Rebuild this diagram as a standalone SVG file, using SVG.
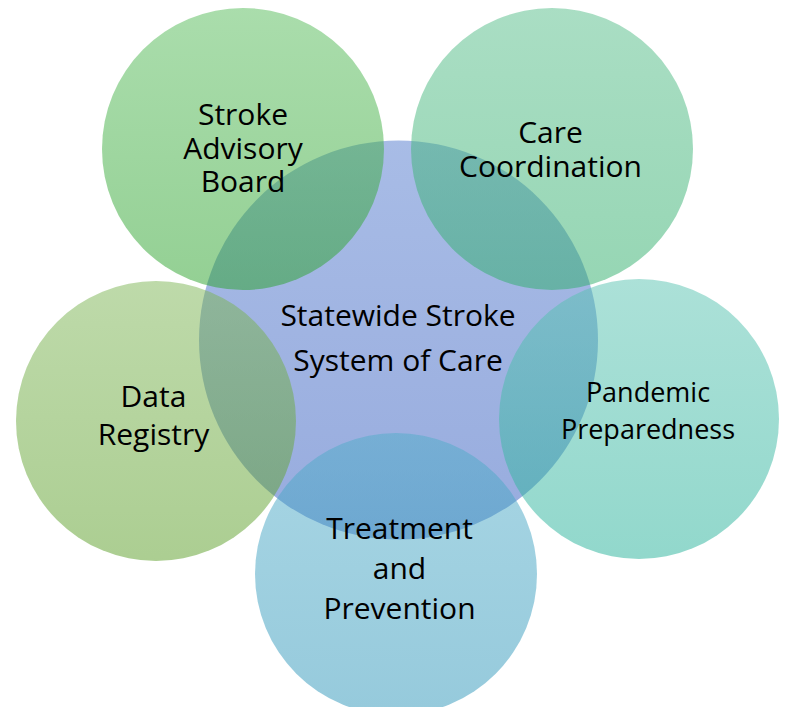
<svg xmlns="http://www.w3.org/2000/svg" width="786" height="707" viewBox="0 0 786 707">
<defs>
<linearGradient id="gC" x1="0" y1="0" x2="0" y2="1"><stop offset="0" stop-color="#5179cd"/><stop offset="1" stop-color="#3159bd"/></linearGradient>
<linearGradient id="gTL" x1="0" y1="0" x2="0" y2="1"><stop offset="0" stop-color="#55bb59"/><stop offset="1" stop-color="#29a129"/></linearGradient>
<linearGradient id="gTR" x1="0" y1="0" x2="0" y2="1"><stop offset="0" stop-color="#55bd89"/><stop offset="1" stop-color="#2dad69"/></linearGradient>
<linearGradient id="gL" x1="0" y1="0" x2="0" y2="1"><stop offset="0" stop-color="#7db555"/><stop offset="1" stop-color="#599d25"/></linearGradient>
<linearGradient id="gR" x1="0" y1="0" x2="0" y2="1"><stop offset="0" stop-color="#59c3b1"/><stop offset="1" stop-color="#25b199"/></linearGradient>
<linearGradient id="gB" x1="0" y1="0" x2="0" y2="1"><stop offset="0" stop-color="#51adc9"/><stop offset="1" stop-color="#2d95b9"/></linearGradient>
</defs>
<style>
circle { fill-opacity: 0.5; }
text { font-family: "Open Sans", "Liberation Sans", sans-serif; font-size: 30px; fill: #000; text-anchor: middle; }
</style>
<rect width="786" height="707" fill="#ffffff"/>
<g id="center">
<circle cx="398.5" cy="340" r="199.5" fill="url(#gC)"/>
</g>
<g id="stroke-advisory-board">
<circle cx="243" cy="149" r="141" fill="url(#gTL)"/>
</g>
<g id="care-coordination">
<circle cx="552" cy="149" r="141" fill="url(#gTR)"/>
</g>
<g id="data-registry">
<circle cx="156" cy="421" r="140" fill="url(#gL)"/>
</g>
<g id="pandemic-preparedness">
<circle cx="639" cy="419" r="140" fill="url(#gR)"/>
</g>
<g id="treatment-prevention">
<circle cx="396" cy="574" r="141" fill="url(#gB)"/>
</g>
<g id="labels">
<text x="398" y="326">Statewide Stroke</text>
<text x="398" y="371">System of Care</text>
<text x="243" y="125">Stroke</text>
<text x="243" y="158.5">Advisory</text>
<text x="243" y="192">Board</text>
<text x="550.5" y="143">Care</text>
<text x="550.5" y="177">Coordination</text>
<text x="153.5" y="407">Data</text>
<text x="153.5" y="445">Registry</text>
<text x="648" y="402" style="font-size:27px">Pandemic</text>
<text x="648" y="439" style="font-size:27px">Preparedness</text>
<text x="399.5" y="539">Treatment</text>
<text x="399.5" y="579">and</text>
<text x="399.5" y="619">Prevention</text>
</g>
<g id="connectors"></g>
</svg>
